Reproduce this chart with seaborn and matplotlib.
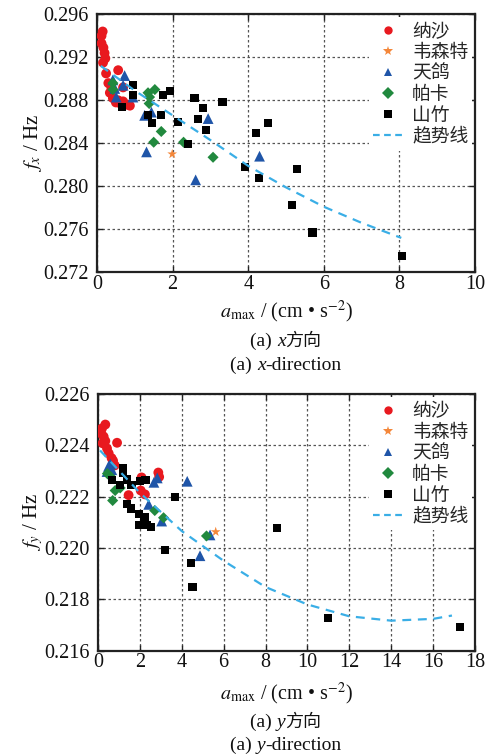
import numpy as np
import pandas as pd
import matplotlib
matplotlib.use('Agg')
import matplotlib.pyplot as plt
import seaborn as sns
from matplotlib.lines import Line2D
from matplotlib.offsetbox import TextArea, HPacker, AnchoredOffsetbox

sns.set_theme(style='white')
plt.rcParams['font.family'] = ['Liberation Serif', 'Noto Sans CJK SC']
plt.rcParams['mathtext.fontset'] = 'stix'

# ---------------- data: (a) x-direction ----------------
nasha_ax = [0.12, 0.15, 0.12, 0.17, 0.20, 0.22, 0.16, 0.24, 0.56, 0.30, 0.38, 0.34, 0.42, 0.56, 0.69, 0.79, 0.87, 0.69, 0.50, 0.62]
nasha_fx = [0.2940, 0.2944, 0.2933, 0.2929, 0.2924, 0.2919, 0.2915, 0.2905, 0.2908, 0.2896, 0.2892, 0.2887, 0.2882, 0.2880, 0.2879, 0.2876, 0.2875, 0.2892, 0.2878, 0.2877]
vicente_ax = [1.99]
vicente_fx = [0.2830]
hato_ax = [0.42, 0.73, 0.47, 0.69, 0.51, 0.95, 1.26, 1.44, 1.31, 2.94, 4.30, 2.61]
hato_fx = [0.2899, 0.2903, 0.2891, 0.2894, 0.2883, 0.2883, 0.2866, 0.2869, 0.2832, 0.2863, 0.2828, 0.2806]
pakhar_ax = [0.42, 0.42, 1.35, 1.53, 1.39, 1.38, 1.70, 1.50, 2.29, 3.07]
pakhar_fx = [0.2896, 0.2890, 0.2887, 0.2890, 0.2883, 0.2877, 0.2851, 0.2841, 0.2841, 0.2827]
mangkhut_ax = [0.95, 0.95, 0.66, 1.35, 1.45, 1.69, 1.75, 1.94, 2.14, 2.41, 2.58, 2.80, 2.67, 2.89, 3.32, 4.20, 4.52, 3.91, 4.29, 5.29, 5.17, 5.70, 8.08]
mangkhut_fx = [0.2894, 0.2885, 0.2874, 0.2866, 0.2859, 0.2866, 0.2885, 0.2889, 0.2860, 0.2839, 0.2882, 0.2873, 0.2863, 0.2852, 0.2878, 0.2850, 0.2859, 0.2818, 0.2808, 0.2816, 0.2783, 0.2757, 0.2735]
trend_x_a = [0.1, 1.0, 2.0, 3.0, 4.0, 5.0, 6.0, 7.0, 8.05]
trend_x_f = [0.2912, 0.2889, 0.2866, 0.2843, 0.2819, 0.2799, 0.2781, 0.2766, 0.2752]

# ---------------- data: (a) y-direction ----------------
nasha_ay = [0.35, 0.19, 0.16, 0.27, 0.35, 0.22, 0.43, 0.51, 0.91, 0.72, 0.80, 1.46, 2.08, 2.04, 2.24, 2.88, 2.92, 0.65]
nasha_fy = [0.22481, 0.22466, 0.22446, 0.22434, 0.22417, 0.22408, 0.22388, 0.22369, 0.22410, 0.22340, 0.22322, 0.22206, 0.22275, 0.22224, 0.22209, 0.22294, 0.22277, 0.22350]
vicente_ay = [5.62]
vicente_fy = [0.22063]
hato_ay = [0.59, 0.43, 0.66, 2.83, 2.67, 4.26, 2.42, 3.04, 5.35, 4.87, 0.50]
hato_fy = [0.22327, 0.22298, 0.22305, 0.22273, 0.22256, 0.22260, 0.22170, 0.22105, 0.22051, 0.21970, 0.22318]
pakhar_ay = [0.59, 0.82, 1.06, 0.70, 2.71, 3.13, 5.18, 0.45]
pakhar_fy = [0.22279, 0.22224, 0.22234, 0.22185, 0.22146, 0.22118, 0.22047, 0.22290]
mangkhut_ay = [1.21, 1.21, 0.65, 1.05, 1.37, 1.60, 2.00, 2.27, 3.67, 1.37, 1.56, 1.97, 2.22, 1.97, 2.35, 2.54, 3.19, 4.46, 4.51, 8.54, 10.99, 17.29]
mangkhut_fy = [0.22312, 0.22292, 0.22265, 0.22244, 0.22267, 0.22245, 0.22260, 0.22266, 0.22198, 0.22171, 0.22154, 0.22131, 0.22120, 0.22090, 0.22090, 0.22082, 0.21991, 0.21941, 0.21848, 0.22077, 0.21728, 0.21693]
trend_y_a = [0.1, 2.0, 4.0, 6.0, 8.0, 10.0, 12.0, 14.0, 16.0, 16.9]
trend_y_f = [0.22380, 0.22215, 0.22066, 0.21950, 0.21848, 0.21780, 0.21734, 0.21717, 0.21724, 0.21737]

names = ['纳沙', '韦森特', '天鸽', '帕卡', '山竹']
trend_label = '趋势线'
x_ticks_a = [0, 2, 4, 6, 8, 10]
y_ticks_a = [0.272, 0.276, 0.280, 0.284, 0.288, 0.292, 0.296]
x_ticks_b = [0, 2, 4, 6, 8, 10, 12, 14, 16, 18]
y_ticks_b = [0.216, 0.218, 0.220, 0.222, 0.224, 0.226]

palette = {'纳沙': '#e8191f', '韦森特': '#f4873a', '天鸽': '#1f55a8', '帕卡': '#21893e', '山竹': '#000000'}
markers = {'纳沙': 'o', '韦森特': '*', '天鸽': '^', '帕卡': 'D', '山竹': 's'}
sizes = {'纳沙': 50, '韦森特': 55, '天鸽': 60, '帕卡': 32, '山竹': 34}
trend_color = '#3aaee6'


def make_df(groups):
    frames = []
    for n, (a, f) in zip(names, groups):
        frames.append(pd.DataFrame({'a': a, 'f': f, 'name': n}))
    return pd.concat(frames, ignore_index=True)


df_x = make_df([(nasha_ax, nasha_fx), (vicente_ax, vicente_fx), (hato_ax, hato_fx),
                (pakhar_ax, pakhar_fx), (mangkhut_ax, mangkhut_fx)])
df_y = make_df([(nasha_ay, nasha_fy), (vicente_ay, vicente_fy), (hato_ay, hato_fy),
                (pakhar_ay, pakhar_fy), (mangkhut_ay, mangkhut_fy)])

W, H = 490, 756
fig = plt.figure(figsize=(W / 100, H / 100), dpi=100)
ax1 = fig.add_axes([97 / W, 1 - 272.3 / H, 378 / W, 258 / H])
ax2 = fig.add_axes([98 / W, 1 - 650.7 / H, 377 / W, 256.7 / H])


def style_axes(ax, df, tx, tf, xt, yt, ylab):
    sns.scatterplot(data=df, x='a', y='f', hue='name', style='name', size='name',
                    palette=palette, markers=markers, sizes=sizes, hue_order=names,
                    style_order=names, size_order=names,
                    linewidth=0, legend=False, ax=ax, zorder=3)
    sns.lineplot(x=tx, y=tf, ax=ax, color=trend_color, lw=1.6,
                 linestyle=(0, (4, 3)), zorder=4)
    ax.set_xlim(xt[0], xt[-1])
    ax.set_ylim(yt[0], yt[-1])
    ax.set_xticks(xt)
    ax.set_yticks(yt)
    ax.set_xticklabels([str(v) for v in xt])
    ax.set_yticklabels(['%.3f' % v for v in yt])
    ax.grid(True, color='#555555', linestyle=(0, (2, 2)), lw=0.9, zorder=1)
    for s in ax.spines.values():
        s.set_color('#222222')
        s.set_linewidth(1.6)
        s.set_visible(True)
    ax.tick_params(direction='in', length=4, width=1, top=True, right=True,
                   bottom=True, left=True, labelsize=14.5, colors='#222222',
                   labelcolor='#111111')
    ax.tick_params(axis='x', pad=2)
    ax.tick_params(axis='y', pad=6)
    ax.set_xlabel(r'$a_{\rm max}$ / (cm • s$^{-2}$)', fontsize=14.5, color='#111111')
    ax.set_ylabel(ylab, fontsize=15, color='#111111')
    handles = [Line2D([], [], marker=markers[n], color=palette[n], linestyle='None',
                      markersize=6 if n != '韦森特' else 7, markeredgewidth=0) for n in names]
    handles.append(Line2D([], [], color=trend_color, lw=1.6, linestyle=(0, (3, 2))))
    leg = ax.legend(handles, names + [trend_label], loc='upper right',
                    bbox_to_anchor=(1.0, 1.0), frameon=True, fancybox=False,
                    framealpha=1, facecolor='white', edgecolor='none',
                    prop={'family': 'Noto Sans CJK SC', 'size': 13.5},
                    handlelength=1.6, handletextpad=0.5, labelspacing=0.0,
                    borderaxespad=0.15, borderpad=0.2)
    leg.set_zorder(10)


style_axes(ax1, df_x, trend_x_a, trend_x_f, x_ticks_a, y_ticks_a, r'$f_x$ / Hz')
style_axes(ax2, df_y, trend_y_a, trend_y_f, x_ticks_b, y_ticks_b, r'$f_y$ / Hz')

ax1.xaxis.set_label_coords(0.5, -(312 - 272.3) / 258)
ax1.xaxis.label.set_va('center')
ax2.xaxis.set_label_coords(0.5, -(694 - 650.7) / 256.7)
ax2.xaxis.label.set_va('center')
ax1.yaxis.set_label_coords((33 - 97) / 378, 0.5)
ax1.yaxis.label.set_va('center')
ax2.yaxis.set_label_coords((33 - 98) / 377, 0.5)
ax2.yaxis.label.set_va('center')

serif = {'family': 'Liberation Serif', 'size': 14, 'color': '#111111'}
serif_it = {'family': 'Liberation Serif', 'size': 14, 'style': 'italic', 'color': '#111111'}
cjk = {'family': 'Noto Sans CJK SC', 'size': 13, 'color': '#111111'}


def caption(parts, xpix, ypix):
    children = [TextArea(t, textprops=p) for t, p in parts]
    box = HPacker(children=children, align='baseline', pad=0, sep=0)
    ab = AnchoredOffsetbox(loc='center', child=box, pad=0, borderpad=0, frameon=False,
                           bbox_to_anchor=(xpix / W, 1 - ypix / H),
                           bbox_transform=fig.transFigure)
    fig.add_artist(ab)


caption([('(a) ', serif), ('x', serif_it), ('方向', cjk)], 286, 341)
caption([('(a) ', serif), ('x', serif_it), ('-direction', serif)], 286, 365)
caption([('(a) ', serif), ('y', serif_it), ('方向', cjk)], 286, 722)
caption([('(a) ', serif), ('y', serif_it), ('-direction', serif)], 286, 745)

fig.savefig('out.png', dpi=100)
